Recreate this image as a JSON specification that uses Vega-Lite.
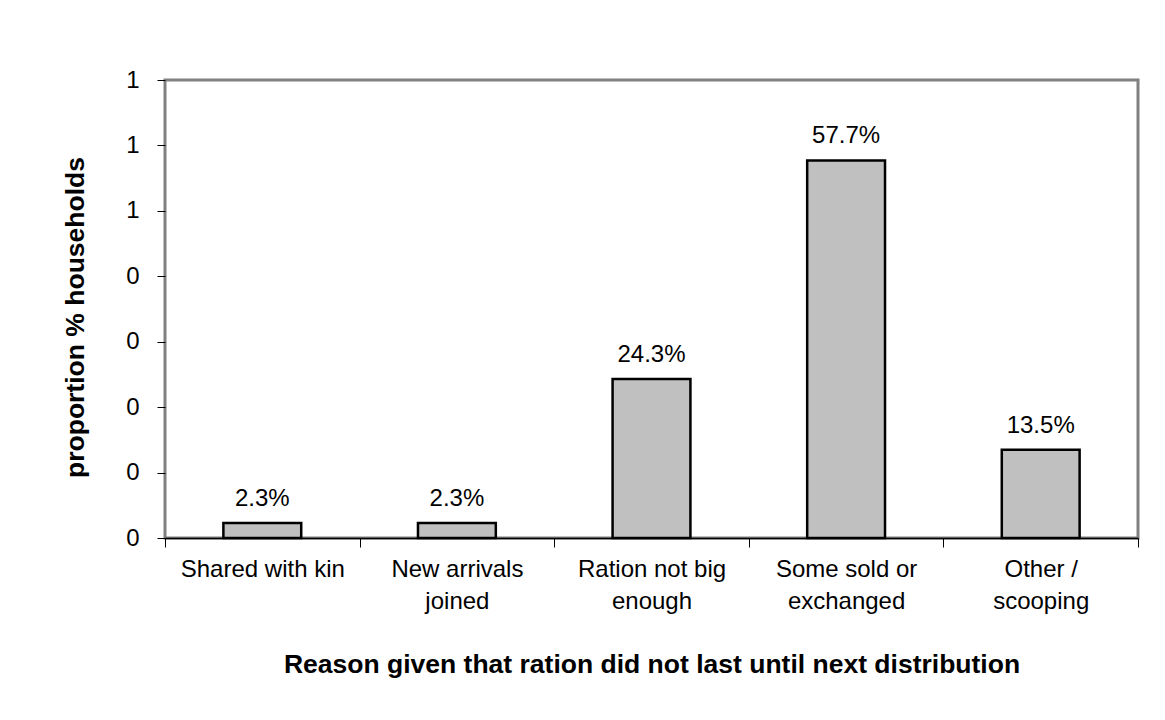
{
  "$schema": "https://vega.github.io/schema/vega-lite/v6.json",
  "autosize": "none",
  "width": 973,
  "height": 458,
  "padding": {"left": 165, "top": 80, "right": 27, "bottom": 182},
  "background": "white",
  "config": {
    "font": "Liberation Sans",
    "view": {"stroke": "#808080", "strokeWidth": 3}
  },
  "data": {
    "values": [
      {"reason": "Shared with kin", "value": 0.023},
      {"reason": "New arrivals joined", "value": 0.023},
      {"reason": "Ration not big enough", "value": 0.243},
      {"reason": "Some sold or exchanged", "value": 0.577},
      {"reason": "Other / scooping", "value": 0.135}
    ]
  },
  "encoding": {
    "x": {
      "field": "reason",
      "type": "nominal",
      "sort": null,
      "scale": {"paddingInner": 0, "paddingOuter": 0},
      "axis": {
        "title": "Reason given that ration did not last until next distribution",
        "titleFont": "Liberation Sans",
        "titleFontSize": 26.5,
        "titleFontWeight": "bold",
        "titleColor": "black",
        "titlePadding": 38,
        "labelAngle": 0,
        "labelFontSize": 24,
        "labelColor": "black",
        "labelLineHeight": 32,
        "labelPadding": 10,
        "labelExpr": "datum.value == 'New arrivals joined' ? ['New arrivals', 'joined'] : datum.value == 'Ration not big enough' ? ['Ration not big', 'enough'] : datum.value == 'Some sold or exchanged' ? ['Some sold or', 'exchanged'] : datum.value == 'Other / scooping' ? ['Other /', 'scooping'] : datum.label",
        "tickBand": "extent",
        "tickSize": 9,
        "tickColor": "black",
        "tickWidth": 1,
        "domainColor": "black",
        "domainWidth": 1.5,
        "grid": false
      }
    },
    "y": {
      "field": "value",
      "type": "quantitative",
      "scale": {"domain": [0, 0.7], "nice": false},
      "axis": {
        "title": "proportion % households",
        "titleFontSize": 26.5,
        "titleFontWeight": "bold",
        "titleColor": "black",
        "titlePadding": 36,
        "titleY": 237,
        "values": [0, 0.1, 0.2, 0.3, 0.4, 0.5, 0.6, 0.7],
        "format": ".0f",
        "labelFontSize": 24,
        "labelColor": "black",
        "labelPadding": 18,
        "tickSize": 8,
        "tickColor": "black",
        "tickWidth": 1,
        "domain": false,
        "grid": false
      }
    }
  },
  "layer": [
    {
      "mark": {"type": "bar", "width": {"band": 0.4}, "fill": "#C0C0C0", "stroke": "black", "strokeWidth": 2.5}
    },
    {
      "mark": {"type": "text", "baseline": "alphabetic", "dy": -17, "fontSize": 24, "color": "black"},
      "encoding": {
        "text": {"field": "value", "type": "quantitative", "format": ".1%"}
      }
    }
  ]
}
